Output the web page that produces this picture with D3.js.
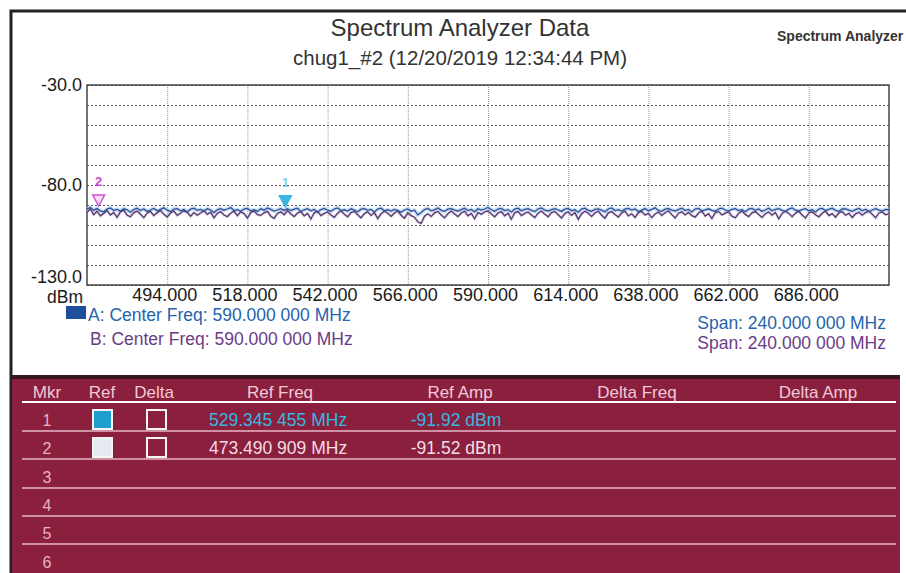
<!DOCTYPE html>
<html>
<head>
<meta charset="utf-8">
<script src="https://cdn.jsdelivr.net/npm/d3@7"></script>
<style>
  body { margin: 0; background: #fff; }
  svg { display: block; font-family: "Liberation Sans", Arial, sans-serif; }
</style>
</head>
<body>
<div id="chart"></div>
<script>
// sweep values (dBm), one point per MHz from 470 to 710
const traceA = [
  -92.0,-91.3,-92.6,-91.8,-92.9,-93.4,-92.1,-91.5,-92.7,-92.2,
  -93.0,-91.9,-92.4,-93.6,-92.3,-91.6,-92.8,-92.0,-93.2,-92.5,
  -91.7,-92.9,-92.2,-91.4,-92.6,-93.3,-92.0,-91.8,-92.9,-92.3,
  -93.5,-92.1,-91.6,-92.7,-92.2,-93.0,-91.9,-92.5,-93.8,-92.4,
  -91.8,-92.6,-92.0,-91.3,-92.8,-92.3,-93.1,-92.0,-91.7,-92.9,
  -92.4,-93.2,-91.9,-92.6,-91.5,-92.2,-93.0,-92.5,-91.8,-92.7,
  -91.9,-92.8,-92.1,-91.6,-93.3,-92.4,-91.8,-92.9,-92.2,-93.6,
  -92.3,-91.7,-92.6,-93.1,-92.0,-91.5,-92.8,-92.4,-93.0,-91.9,
  -92.6,-93.4,-92.1,-91.8,-92.7,-92.2,-93.5,-92.0,-91.6,-92.9,
  -92.4,-93.0,-92.2,-92.8,-93.6,-92.5,-92.0,-93.1,-92.6,-94.9,
  -93.8,-92.3,-91.7,-92.9,-92.4,-91.5,-92.7,-93.2,-92.1,-91.8,
  -92.6,-93.0,-92.3,-91.6,-92.8,-92.2,-93.4,-91.9,-92.5,-92.0,
  -91.2,-92.4,-93.1,-92.0,-91.7,-92.8,-92.3,-93.5,-92.1,-91.6,
  -92.9,-92.2,-91.8,-92.7,-93.3,-92.0,-91.5,-92.6,-93.0,-92.3,
  -91.8,-92.5,-93.2,-92.1,-91.7,-92.9,-92.4,-93.6,-92.0,-91.6,
  -92.7,-93.1,-92.2,-91.9,-92.6,-93.4,-92.0,-91.5,-92.8,-92.3,
  -93.0,-92.1,-91.7,-92.5,-92.0,-93.3,-92.6,-91.8,-92.9,-92.2,
  -91.4,-92.7,-93.2,-92.1,-91.8,-92.6,-93.0,-92.3,-91.6,-92.8,
  -92.2,-93.5,-92.0,-91.7,-92.9,-92.4,-91.9,-92.7,-93.1,-92.0,
  -91.6,-92.5,-93.0,-92.2,-91.8,-92.8,-92.3,-93.4,-92.1,-91.7,
  -92.6,-92.0,-93.2,-92.5,-91.6,-92.9,-92.2,-91.8,-92.7,-93.3,
  -92.1,-91.5,-92.6,-93.0,-92.3,-91.8,-92.9,-92.4,-93.5,-92.0,
  -91.7,-92.8,-92.2,-91.6,-92.7,-93.1,-92.0,-91.9,-92.6,-93.2,
  -92.3,-91.7,-92.9,-92.1,-93.4,-92.5,-91.8,-92.6,-93.0,-92.2,
  -92.4
]
const traceB = [
  -93.6,-92.0,-94.8,-93.1,-95.4,-94.2,-92.8,-95.0,-93.7,-96.2,
  -93.4,-92.6,-95.1,-95.9,-93.8,-93.0,-94.6,-96.3,-94.1,-93.2,
  -95.3,-93.8,-92.7,-94.6,-96.0,-94.0,-93.0,-95.2,-94.1,-92.9,
  -93.7,-95.6,-93.8,-95.1,-94.0,-92.8,-94.7,-93.6,-96.4,-94.2,
  -93.3,-95.0,-95.8,-94.1,-93.0,-95.3,-93.4,-94.3,-96.5,-93.8,
  -93.0,-94.8,-95.2,-93.9,-93.2,-95.6,-96.7,-94.2,-93.4,-94.9,
  -92.8,-94.5,-95.8,-94.0,-93.3,-95.4,-94.2,-97.0,-93.9,-93.1,
  -95.3,-94.2,-93.5,-95.0,-96.2,-94.1,-92.9,-94.6,-95.9,-93.8,
  -93.2,-94.9,-96.4,-94.3,-93.4,-95.2,-93.8,-96.8,-94.4,-93.1,
  -94.1,-95.7,-94.0,-93.0,-95.1,-96.6,-93.9,-95.3,-96.1,-98.4,
  -99.2,-95.6,-94.4,-95.7,-93.9,-93.2,-95.0,-96.4,-94.4,-93.0,
  -94.5,-95.8,-94.0,-93.1,-95.4,-94.2,-96.9,-93.8,-94.6,-93.5,
  -92.9,-94.5,-95.9,-94.0,-93.3,-95.4,-94.1,-97.1,-93.9,-93.2,
  -95.3,-94.2,-93.5,-95.0,-96.3,-94.1,-93.0,-94.6,-95.9,-93.8,
  -93.2,-94.9,-96.5,-94.3,-93.4,-95.2,-93.8,-97.2,-94.4,-93.1,
  -94.1,-95.7,-94.0,-93.0,-95.1,-96.6,-93.9,-93.3,-94.8,-96.0,
  -94.0,-93.1,-95.4,-94.4,-96.2,-93.8,-93.2,-95.0,-94.2,-96.3,
  -94.5,-93.5,-95.2,-93.9,-92.9,-94.8,-96.5,-94.1,-93.4,-95.0,
  -93.7,-95.3,-96.1,-94.0,-93.1,-95.5,-94.3,-96.8,-93.9,-93.2,
  -95.0,-94.1,-93.4,-95.6,-96.4,-94.2,-93.0,-94.7,-95.8,-93.9,
  -93.3,-94.8,-96.2,-94.4,-93.5,-95.1,-93.7,-96.9,-94.3,-93.0,
  -94.2,-95.8,-94.1,-93.1,-95.0,-96.5,-94.0,-93.4,-94.9,-95.9,
  -94.1,-93.0,-95.3,-94.3,-96.1,-93.9,-93.3,-95.1,-94.2,-96.2,
  -94.4,-93.6,-95.1,-93.8,-93.0,-94.7,-96.4,-94.0,-93.5,-94.9,
  -94.2
]
const freqs = d3.range(traceA.length).map(i => 470 + i)

const xTicks = [494, 518, 542, 566, 590, 614, 638, 662, 686]
const yTicks = [-30, -80, -130]

// markers
const mkrIds   = [1, 2]
const mkrFreqs = [529.345455, 473.490909]
const mkrAmps  = [-91.92, -91.52]

const tableHeaders = ['Mkr', 'Ref', 'Delta', 'Ref Freq', 'Ref Amp', 'Delta Freq', 'Delta Amp']
const tableRows = [1, 2, 3, 4, 5, 6]

const W = 906, H = 573
const PLOT = {left: 87, right: 889, top: 85, bottom: 285}
const FONT = '"Liberation Sans", Arial, sans-serif'

const svg = d3.select('#chart')
  .append('svg')
    .attr('width', W)
    .attr('height', H)

const x = d3.scaleLinear().domain([470, 710]).range([PLOT.left, PLOT.right])
const y = d3.scaleLinear().domain([-130, -30]).range([PLOT.bottom, PLOT.top])

// outer frame of the scanned page
svg.append('path')
  .attr('d', `M11,${H} V11 H${W}`)
  .attr('fill', 'none')
  .attr('stroke', '#222')
  .attr('stroke-width', 3)

// titles
svg.append('text')
  .attr('x', 460).attr('y', 36)
  .attr('text-anchor', 'middle')
  .style('font-size', '24px')
  .style('fill', '#333')
  .text('Spectrum Analyzer Data')

svg.append('text')
  .attr('x', 460).attr('y', 65)
  .attr('text-anchor', 'middle')
  .style('font-size', '20.5px')
  .style('fill', '#333')
  .text('chug1_#2 (12/20/2019 12:34:44 PM)')

svg.append('text')
  .attr('x', 777).attr('y', 41)
  .style('font-size', '14px')
  .style('font-weight', 'bold')
  .style('fill', '#333')
  .text('Spectrum Analyzer')

// grid
svg.append('g')
  .attr('transform', `translate(0, ${PLOT.top})`)
  .call(d3.axisBottom(x).tickValues(xTicks).tickSize(PLOT.bottom - PLOT.top).tickFormat(''))
  .call(g => g.select('.domain').remove())
  .call(g => g.selectAll('line')
    .attr('stroke', '#9a9a9a')
    .attr('stroke-dasharray', '1,1'))

svg.append('g')
  .attr('transform', `translate(${PLOT.left}, 0)`)
  .call(d3.axisRight(y).ticks(10).tickSize(PLOT.right - PLOT.left).tickFormat(''))
  .call(g => g.select('.domain').remove())
  .call(g => g.selectAll('line')
    .attr('stroke', '#555')
    .attr('stroke-dasharray', '2,2'))

svg.append('rect')
  .attr('x', PLOT.left).attr('y', PLOT.top)
  .attr('width', PLOT.right - PLOT.left)
  .attr('height', PLOT.bottom - PLOT.top)
  .attr('fill', 'none')
  .attr('stroke', '#444')
  .attr('stroke-width', 1.5)

// x axis labels
svg.append('g')
  .attr('transform', `translate(0, ${PLOT.bottom})`)
  .call(d3.axisBottom(x).tickValues(xTicks).tickSize(0).tickFormat(d => d.toFixed(3)))
  .call(g => g.select('.domain').remove())
  .call(g => g.selectAll('text')
    .attr('y', 16).attr('dy', 0)
    .attr('dx', -3)
    .style('font-size', '18px')
    .style('font-family', FONT)
    .style('fill', '#1a1a1a'))

// y axis labels (the bottom one sits just above the frame, clear of "dBm")
svg.append('g')
  .attr('transform', `translate(82, 0)`)
  .call(d3.axisLeft(y).tickValues(yTicks).tickSize(0).tickPadding(0).tickFormat(d => d.toFixed(1)))
  .call(g => g.select('.domain').remove())
  .call(g => g.selectAll('text')
    .attr('dy', d => d == -130 ? '-0.15em' : '0.32em')
    .style('font-size', '18px')
    .style('font-family', FONT)
    .style('fill', '#1a1a1a'))

svg.append('text')
  .attr('x', 83).attr('y', 303)
  .attr('text-anchor', 'end')
  .style('font-size', '17.5px')
  .style('fill', '#1a1a1a')
  .text('dBm')

// traces
const line = d3.line()
  .x((d, i) => x(freqs[i]))
  .y(d => y(d))

svg.append('path')
  .datum(traceA)
  .attr('d', line)
  .attr('fill', 'none')
  .attr('stroke', '#9fc6ee')
  .attr('stroke-width', 4)
  .attr('opacity', 0.6)

svg.append('path')
  .datum(traceB)
  .attr('d', line)
  .attr('fill', 'none')
  .attr('stroke', '#d9b6e6')
  .attr('stroke-width', 3)
  .attr('opacity', 0.6)

svg.append('path')
  .datum(traceB)
  .attr('d', line)
  .attr('fill', 'none')
  .attr('stroke', '#4e3c68')
  .attr('stroke-width', 1.3)

svg.append('path')
  .datum(traceA)
  .attr('d', line)
  .attr('fill', 'none')
  .attr('stroke', '#2d4f96')
  .attr('stroke-width', 1.3)

// marker glyphs on the trace
const mkrFill   = ['#3bb5e2', '#f6dcf4']
const mkrStroke = ['#3bb5e2', '#cf52d3']
const mkrLabel  = ['#7fd0ee', '#cc44cc']

const mk = svg.selectAll('.mkr')
  .data(mkrIds)
  .join('g')
    .attr('class', 'mkr')
    .attr('transform', (d, i) => `translate(${x(mkrFreqs[i])}, ${y(mkrAmps[i])})`)

mk.append('path')
  .attr('d', 'M-6,-13 L6,-13 L0,-2 Z')
  .attr('fill', (d, i) => mkrFill[i])
  .attr('stroke', (d, i) => mkrStroke[i])
  .attr('stroke-width', 1.5)

mk.append('text')
  .attr('y', -22)
  .attr('text-anchor', 'middle')
  .style('font-size', '13px')
  .style('font-weight', 'bold')
  .style('fill', (d, i) => mkrLabel[i])
  .text(d => d)

// legend
svg.append('rect')
  .attr('x', 66).attr('y', 306)
  .attr('width', 20).attr('height', 13)
  .attr('fill', '#1f4f9c')

svg.append('text')
  .attr('x', 88).attr('y', 321)
  .style('font-size', '17.5px')
  .style('fill', '#2563ad')
  .text('A: Center Freq: 590.000 000 MHz')

svg.append('text')
  .attr('x', 90).attr('y', 345)
  .style('font-size', '17.5px')
  .style('fill', '#6c3b86')
  .text('B: Center Freq: 590.000 000 MHz')

svg.append('text')
  .attr('x', 886).attr('y', 329)
  .attr('text-anchor', 'end')
  .style('font-size', '17.5px')
  .style('fill', '#2563ad')
  .text('Span: 240.000 000 MHz')

svg.append('text')
  .attr('x', 886).attr('y', 349)
  .attr('text-anchor', 'end')
  .style('font-size', '17.5px')
  .style('fill', '#6c3b86')
  .text('Span: 240.000 000 MHz')

// marker table
const TBL = {left: 12, right: 900, top: 375, bottom: H}
const colX = [47, 102, 154, 280, 460, 637, 818]
const rowY = [420, 448, 477, 505, 533, 562]
const sepY = [402, 431, 459, 488, 516, 544]

svg.append('rect')
  .attr('x', TBL.left).attr('y', TBL.top)
  .attr('width', TBL.right - TBL.left)
  .attr('height', TBL.bottom - TBL.top)
  .attr('fill', '#8b1f3e')

svg.append('rect')
  .attr('x', TBL.left).attr('y', TBL.top)
  .attr('width', TBL.right - TBL.left)
  .attr('height', 4)
  .attr('fill', '#3a1520')

svg.selectAll('.hdr')
  .data(tableHeaders)
  .join('text')
    .attr('class', 'hdr')
    .attr('x', (d, i) => colX[i])
    .attr('y', 398)
    .attr('text-anchor', 'middle')
    .style('font-size', '17px')
    .style('fill', '#f2c9d6')
    .text(d => d)

svg.selectAll('.sep')
  .data(sepY)
  .join('line')
    .attr('class', 'sep')
    .attr('x1', 22).attr('x2', 896)
    .attr('y1', d => d).attr('y2', d => d)
    .attr('stroke', (d, i) => i == 0 ? '#ffffff' : '#e9b9c9')
    .attr('stroke-width', (d, i) => i == 0 ? 2 : 1.5)

svg.selectAll('.rownum')
  .data(tableRows)
  .join('text')
    .attr('class', 'rownum')
    .attr('x', colX[0])
    .attr('y', (d, i) => rowY[i] + 6)
    .attr('text-anchor', 'middle')
    .style('font-size', '16px')
    .style('fill', '#eab3c4')
    .text(d => d)

const fmtFreq = v => {
  const s = v.toFixed(6)
  return s.slice(0, -3) + ' ' + s.slice(-3) + ' MHz'
}
const fmtAmp = v => v.toFixed(2) + ' dBm'

const refBoxFill = ['#1e9fd0', '#e6e8f2']
const valColor   = ['#35b8e0', '#f3dde5']

const rows = svg.selectAll('.mrow')
  .data(mkrIds)
  .join('g')
    .attr('class', 'mrow')
    .attr('transform', (d, i) => `translate(0, ${rowY[d - 1]})`)

rows.append('rect')
  .attr('x', colX[1] - 9).attr('y', -10)
  .attr('width', 19).attr('height', 19)
  .attr('fill', (d, i) => refBoxFill[i])
  .attr('stroke', '#f4f4f4')
  .attr('stroke-width', 2)

rows.append('rect')
  .attr('x', colX[2] - 7).attr('y', -10)
  .attr('width', 19).attr('height', 19)
  .attr('fill', 'none')
  .attr('stroke', '#f4f4f4')
  .attr('stroke-width', 2)

rows.append('text')
  .attr('x', 209).attr('y', 6)
  .style('font-size', '17.5px')
  .style('fill', (d, i) => valColor[i])
  .text((d, i) => fmtFreq(mkrFreqs[i]))

rows.append('text')
  .attr('x', 456).attr('y', 6)
  .attr('text-anchor', 'middle')
  .style('font-size', '17.5px')
  .style('fill', (d, i) => valColor[i])
  .text((d, i) => fmtAmp(mkrAmps[i]))
</script>
</body>
</html>
